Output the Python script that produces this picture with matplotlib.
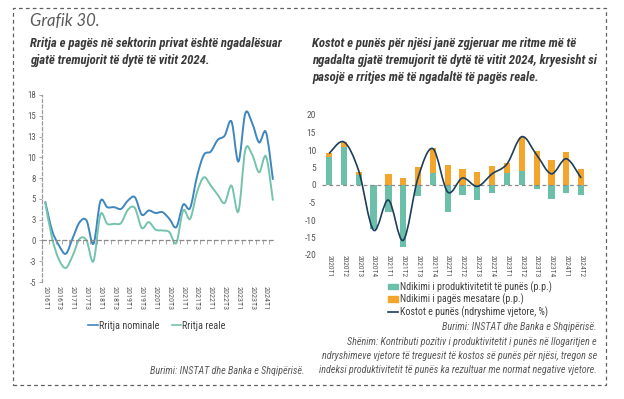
import matplotlib
matplotlib.use("Agg")
import matplotlib.pyplot as plt
from matplotlib.path import Path
from matplotlib.patches import PathPatch, Rectangle, Patch
from matplotlib.lines import Line2D
from matplotlib import font_manager as fm
import numpy as np

# ---------------- data ----------------
quarters_left = ["2016T1", "2016T2", "2016T3", "2016T4", "2017T1", "2017T2", "2017T3", "2017T4",
                 "2018T1", "2018T2", "2018T3", "2018T4", "2019T1", "2019T2", "2019T3", "2019T4",
                 "2020T1", "2020T2", "2020T3", "2020T4", "2021T1", "2021T2", "2021T3", "2021T4",
                 "2022T1", "2022T2", "2022T3", "2022T4", "2023T1", "2023T2", "2023T3", "2023T4",
                 "2024T1", "2024T2"]
nominal_growth = [4.7, 1.2, -0.6, -1.6, 0.3, 2.2, 2.4, -0.4, 4.7, 4.0, 4.0, 3.8, 4.8, 5.2, 3.1, 3.6,
                  3.3, 3.4, 2.6, 1.6, 4.3, 3.9, 7.7, 10.3, 10.7, 12.1, 12.6, 14.3, 9.5, 15.3, 14.1, 11.8,
                  13.0, 7.3]
real_growth = [4.6, 0.3, -2.3, -3.3, -1.8, 0.2, 0.0, -2.5, 3.1, 2.0, 2.0, 2.1, 3.7, 3.9, 1.5, 2.2,
               1.3, 1.2, 1.0, -0.3, 3.6, 2.6, 5.8, 7.6, 6.6, 5.5, 4.5, 6.6, 3.5, 10.9, 10.3, 8.2,
               10.1, 4.8]
left_yticks = [-5, -2.5, 0, 2.5, 5, 7.5, 10, 12.5, 15, 17.5]
left_yticklabels = ["-5", "-3", "0", "3", "5", "8", "10", "13", "15", "18"]

quarters_right = ["2020T1", "2020T2", "2020T3", "2020T4", "2021T1", "2021T2", "2021T3", "2021T4",
                  "2022T1", "2022T2", "2022T3", "2022T4", "2023T1", "2023T2", "2023T3", "2023T4",
                  "2024T1", "2024T2"]
productivity = [7.9, 11.0, 2.9, -12.5, -7.7, -17.8, -3.1, 3.5, -7.7, -2.8, -4.4, -2.4, 3.4, 3.9,
                -1.1, -4.1, -2.2, -2.8]
avg_wage = [1.3, 1.3, 0.9, 0.0, 3.1, 1.9, 5.2, 7.0, 5.7, 4.6, 3.8, 5.5, 3.0, 9.9, 9.7, 7.1, 9.5, 4.5]
unit_labour_cost = [9.0, 12.3, 4.0, -12.9, -4.3, -15.8, 2.1, 10.4, -2.0, 2.0, -0.4, 3.2, 6.0, 13.8,
                    8.6, 3.2, 7.5, 2.0]

# ---------------- fonts ----------------
avail = {f.name for f in fm.fontManager.ttflist}
def pick(*names):
    for n in names:
        if n in avail:
            return n
    return "DejaVu Sans"

COND = pick("Liberation Sans Narrow", "Roboto Condensed", "Open Sans Condensed", "Noto Sans", "Liberation Sans")
LIGHT = pick("Lato", "Open Sans", "Roboto")

GRAY = "#595959"
C_NOM = "#3f86bf"
C_REAL = "#74c4ad"
C_TEAL = "#6cc0aa"
C_ORANGE = "#f4a52c"
C_NAVY = "#1d3d5c"


def smooth_path(xs, ys):
    pts = np.column_stack([xs, ys]).astype(float)
    n = len(pts)
    verts = [pts[0]]
    codes = [Path.MOVETO]
    for i in range(n - 1):
        p0 = pts[i - 1] if i > 0 else pts[i]
        p1 = pts[i]
        p2 = pts[i + 1]
        p3 = pts[i + 2] if i + 2 < n else pts[i + 1]
        c1 = p1 + (p2 - p0) / 6.0
        c2 = p2 - (p3 - p1) / 6.0
        verts += [c1, c2, p2]
        codes += [Path.CURVE4] * 3
    return Path(verts, codes)


fig = plt.figure(figsize=(6.24, 3.99), dpi=100)
W, H = 624.0, 399.0

def fx(px):
    return px / W

def fy(py):
    return 1 - py / H

# dashed frame
fig.patches.append(Rectangle((fx(12.5), fy(385)), fx(605.5) - fx(12.5), fy(8) - fy(385),
                             transform=fig.transFigure, fill=False, edgecolor="#606060",
                             linewidth=0.9, linestyle=(0, (3, 2.5))))

# titles
fig.text(fx(30), fy(21), "Grafik 30.", family=LIGHT, style="italic", weight="normal",
         fontsize=12, color="#5a5a5a", va="center", ha="left")
fig.text(fx(30), fy(37), "Rritja e pagës në sektorin privat është ngadalësuar\ngjatë tremujorit të dytë të vitit 2024.",
         family=COND, style="italic", weight="bold", fontsize=9.2, color="#3a3a3a",
         va="top", ha="left", linespacing=1.4)
fig.text(fx(312), fy(37), "Kostot e punës për njësi janë zgjeruar me ritme më të\n"
         "ngadalta gjatë tremujorit të dytë të vitit 2024, kryesisht si\n"
         "pasojë e rritjes më të ngadaltë të pagës reale.",
         family=COND, style="italic", weight="bold", fontsize=9.2, color="#3a3a3a",
         va="top", ha="left", linespacing=1.4)

# ---------------- left chart ----------------
axL = fig.add_axes([fx(41.7), fy(282), fx(275) - fx(41.7), fy(95) - fy(282)])
xl = np.arange(len(quarters_left))
axL.add_patch(PathPatch(smooth_path(xl, nominal_growth), fill=False, edgecolor=C_NOM, linewidth=1.4))
axL.add_patch(PathPatch(smooth_path(xl, real_growth), fill=False, edgecolor=C_REAL, linewidth=1.4))
axL.set_xlim(-0.3, len(quarters_left) - 0.7)
axL.set_ylim(-5, 17.5)
for s in ["top", "right"]:
    axL.spines[s].set_visible(False)
axL.spines["left"].set_linestyle((0, (2.5, 2)))
axL.spines["left"].set_color("#9a9a9a")
axL.spines["left"].set_linewidth(0.9)
axL.spines["bottom"].set_position(("data", 0))
axL.spines["bottom"].set_linestyle((0, (3, 2.5)))
axL.spines["bottom"].set_color("#8a8a8a")
axL.spines["bottom"].set_linewidth(0.9)
axL.set_yticks(left_yticks)
axL.set_yticklabels(left_yticklabels, family=COND, fontsize=6.3, color=GRAY)
axL.tick_params(axis="y", length=2, width=0.6, color="#9a9a9a", pad=2)
axL.set_xticks(xl - 0.5)
axL.tick_params(axis="x", length=3, width=0.6, color="#9a9a9a", labelbottom=False)
secL = axL.secondary_xaxis("bottom")
secL.set_xticks(xl[::2])
secL.set_xticklabels(quarters_left[::2], rotation=-90, family=COND, fontsize=5.8, color=GRAY)
secL.tick_params(length=0, pad=3)
secL.spines["bottom"].set_visible(False)
axL.legend(handles=[Line2D([], [], color=C_NOM, lw=1.2), Line2D([], [], color=C_REAL, lw=1.2)],
           labels=["Rritja nominale", "Rritja reale"], ncol=2, frameon=False,
           loc="center", bbox_to_anchor=(fx(157), fy(326)), bbox_transform=fig.transFigure,
           prop={"family": COND, "size": 7.3}, labelcolor="#404040", handlelength=0.9,
           handletextpad=0.15, columnspacing=1.2)

fig.text(fx(305), fy(371), "Burimi: INSTAT dhe Banka e Shqipërisë.", family=COND, style="italic",
         fontsize=7.3, color=GRAY, ha="right", va="center")

# ---------------- right chart ----------------
axR = fig.add_axes([fx(321.7), fy(255), fx(588.5) - fx(321.7), fy(115) - fy(255)])
xr = np.arange(len(quarters_right))
prod = np.array(productivity)
wage = np.array(avg_wage)
pos_base = np.where(prod > 0, prod, 0)
neg_base = np.where(prod < 0, prod, 0)
bw = 0.42
axR.bar(xr, prod, width=bw, color=C_TEAL, zorder=2)
wage_bottom = np.where(wage >= 0, pos_base, neg_base)
axR.bar(xr, wage, width=bw, bottom=wage_bottom, color=C_ORANGE, zorder=2)
axR.axhline(0, color="#8a8a8a", linestyle=(0, (3, 2.5)), linewidth=0.9, zorder=3)
axR.add_patch(PathPatch(smooth_path(xr, unit_labour_cost), fill=False, edgecolor=C_NAVY,
                        linewidth=1.2, zorder=4))
axR.set_xlim(-0.5, len(quarters_right) - 0.5)
axR.set_ylim(-20, 20)
for s in axR.spines.values():
    s.set_visible(False)
axR.set_yticks(np.arange(-20, 21, 5))
axR.set_yticklabels([str(v) for v in range(-20, 21, 5)], family=COND, fontsize=6.8, color=GRAY)
axR.tick_params(axis="y", length=0, pad=4)
axR.set_xticks(xr)
axR.set_xticklabels(quarters_right, rotation=-90, family=COND, fontsize=5.4, color=GRAY)
axR.tick_params(axis="x", length=0, pad=0)

axR.legend(handles=[Patch(color=C_TEAL), Patch(color=C_ORANGE), Line2D([], [], color=C_NAVY, lw=1.2)],
           labels=["Ndikimi i produktivitetit të punës (p.p.)", "Ndikimi i pagës mesatare (p.p.)",
                   "Kostot e punës (ndryshime vjetore, %)"],
           loc="upper left", bbox_to_anchor=(fx(388), fy(281)), bbox_transform=fig.transFigure,
           frameon=False, prop={"family": COND, "size": 7.2}, labelcolor="#404040",
           handlelength=1.0, handleheight=0.45, handletextpad=0.15, labelspacing=0.1,
           borderpad=0, borderaxespad=0)

fig.text(fx(597), fy(327), "Burimi: INSTAT dhe Banka e Shqipërisë.", family=COND, style="italic",
         fontsize=7.3, color=GRAY, ha="right", va="center")
fig.text(fx(597), fy(356), "Shënim: Kontributi pozitiv i produktivitetit i punës në llogaritjen e\n"
         "ndryshimeve vjetore të treguesit të kostos së punës për njësi, tregon se\n"
         "indeksi produktivitetit të punës ka rezultuar me normat negative vjetore.",
         family=COND, style="italic", fontsize=7.3, color=GRAY, ha="right", va="center",
         multialignment="right", linespacing=1.5)

fig.savefig("out.png", dpi=100)
